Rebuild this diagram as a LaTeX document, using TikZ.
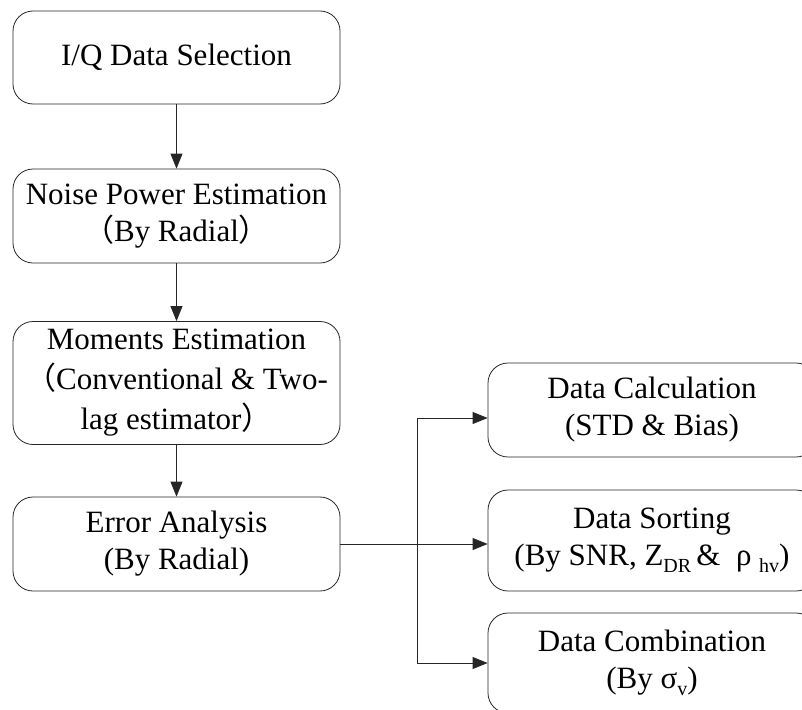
\documentclass[tikz,border=0pt]{standalone}
\usepackage{fontspec}
\setmainfont{Liberation Serif}
\newfontfamily\cjk{Noto Sans CJK SC}
\usetikzlibrary{arrows.meta}
\newcommand\sbt[1]{\raisebox{-0.2em}{\fontsize{20}{20}\selectfont #1}}
\begin{document}
\begin{tikzpicture}[x=1pt,y=-1pt,
  box/.style={draw=black!85, line width=0.8pt, rounded corners=20pt,
    minimum width=327pt, align=center, inner sep=0pt,
    font=\fontsize{31}{37}\selectfont},
  conn/.style={draw=black!85, line width=0.8pt},
  arr/.style={conn, -{Triangle[width=12pt,length=15pt]}}]
\clip (0,0) rectangle (802,709);
\useasboundingbox (0,0) rectangle (802,709);
\node[box, minimum height=93pt] (b1) at (176.5,57.5) {I/Q Data Selection};
\node[box, minimum height=94pt] (b2) at (176.5,216) {Noise Power Estimation\\{\cjk （}By Radial{\cjk ）}};
\node[box, minimum height=123pt, font=\fontsize{31}{40}\selectfont] (b3) at (176.5,383) {Moments Estimation\\{\cjk （}Conventional \& Two-\\lag estimator{\cjk ）}};
\node[box, minimum height=94pt] (b4) at (176.5,544) {Error Analysis\\(By Radial)};
\node[box, minimum width=328pt, minimum height=94pt] (b5) at (652,410) {Data Calculation\\(STD \& Bias)};
\node[box, minimum width=328pt, minimum height=101pt] (b6) at (652,540.5) {Data Sorting\\(By SNR, Z\sbt{DR}\,\& ~ρ \sbt{hv})};
\node[box, minimum width=328pt, minimum height=100pt] (b7) at (652,663) {Data Combination\\(By σ\sbt{v})};
\draw[arr] (b1.south) -- (b2.north);
\draw[arr] (b2.south) -- (b3.north);
\draw[arr] (b3.south) -- (b4.north);
\coordinate (t) at (417,418);
\coordinate (bt) at (417,663);
\draw[arr] (b4.east) -- (b4.east -| b6.west);
\draw[conn] (t) -- (bt);
\draw[arr] (t) -- (t -| b5.west);
\draw[arr] (bt) -- (bt -| b7.west);
\end{tikzpicture}
\end{document}
